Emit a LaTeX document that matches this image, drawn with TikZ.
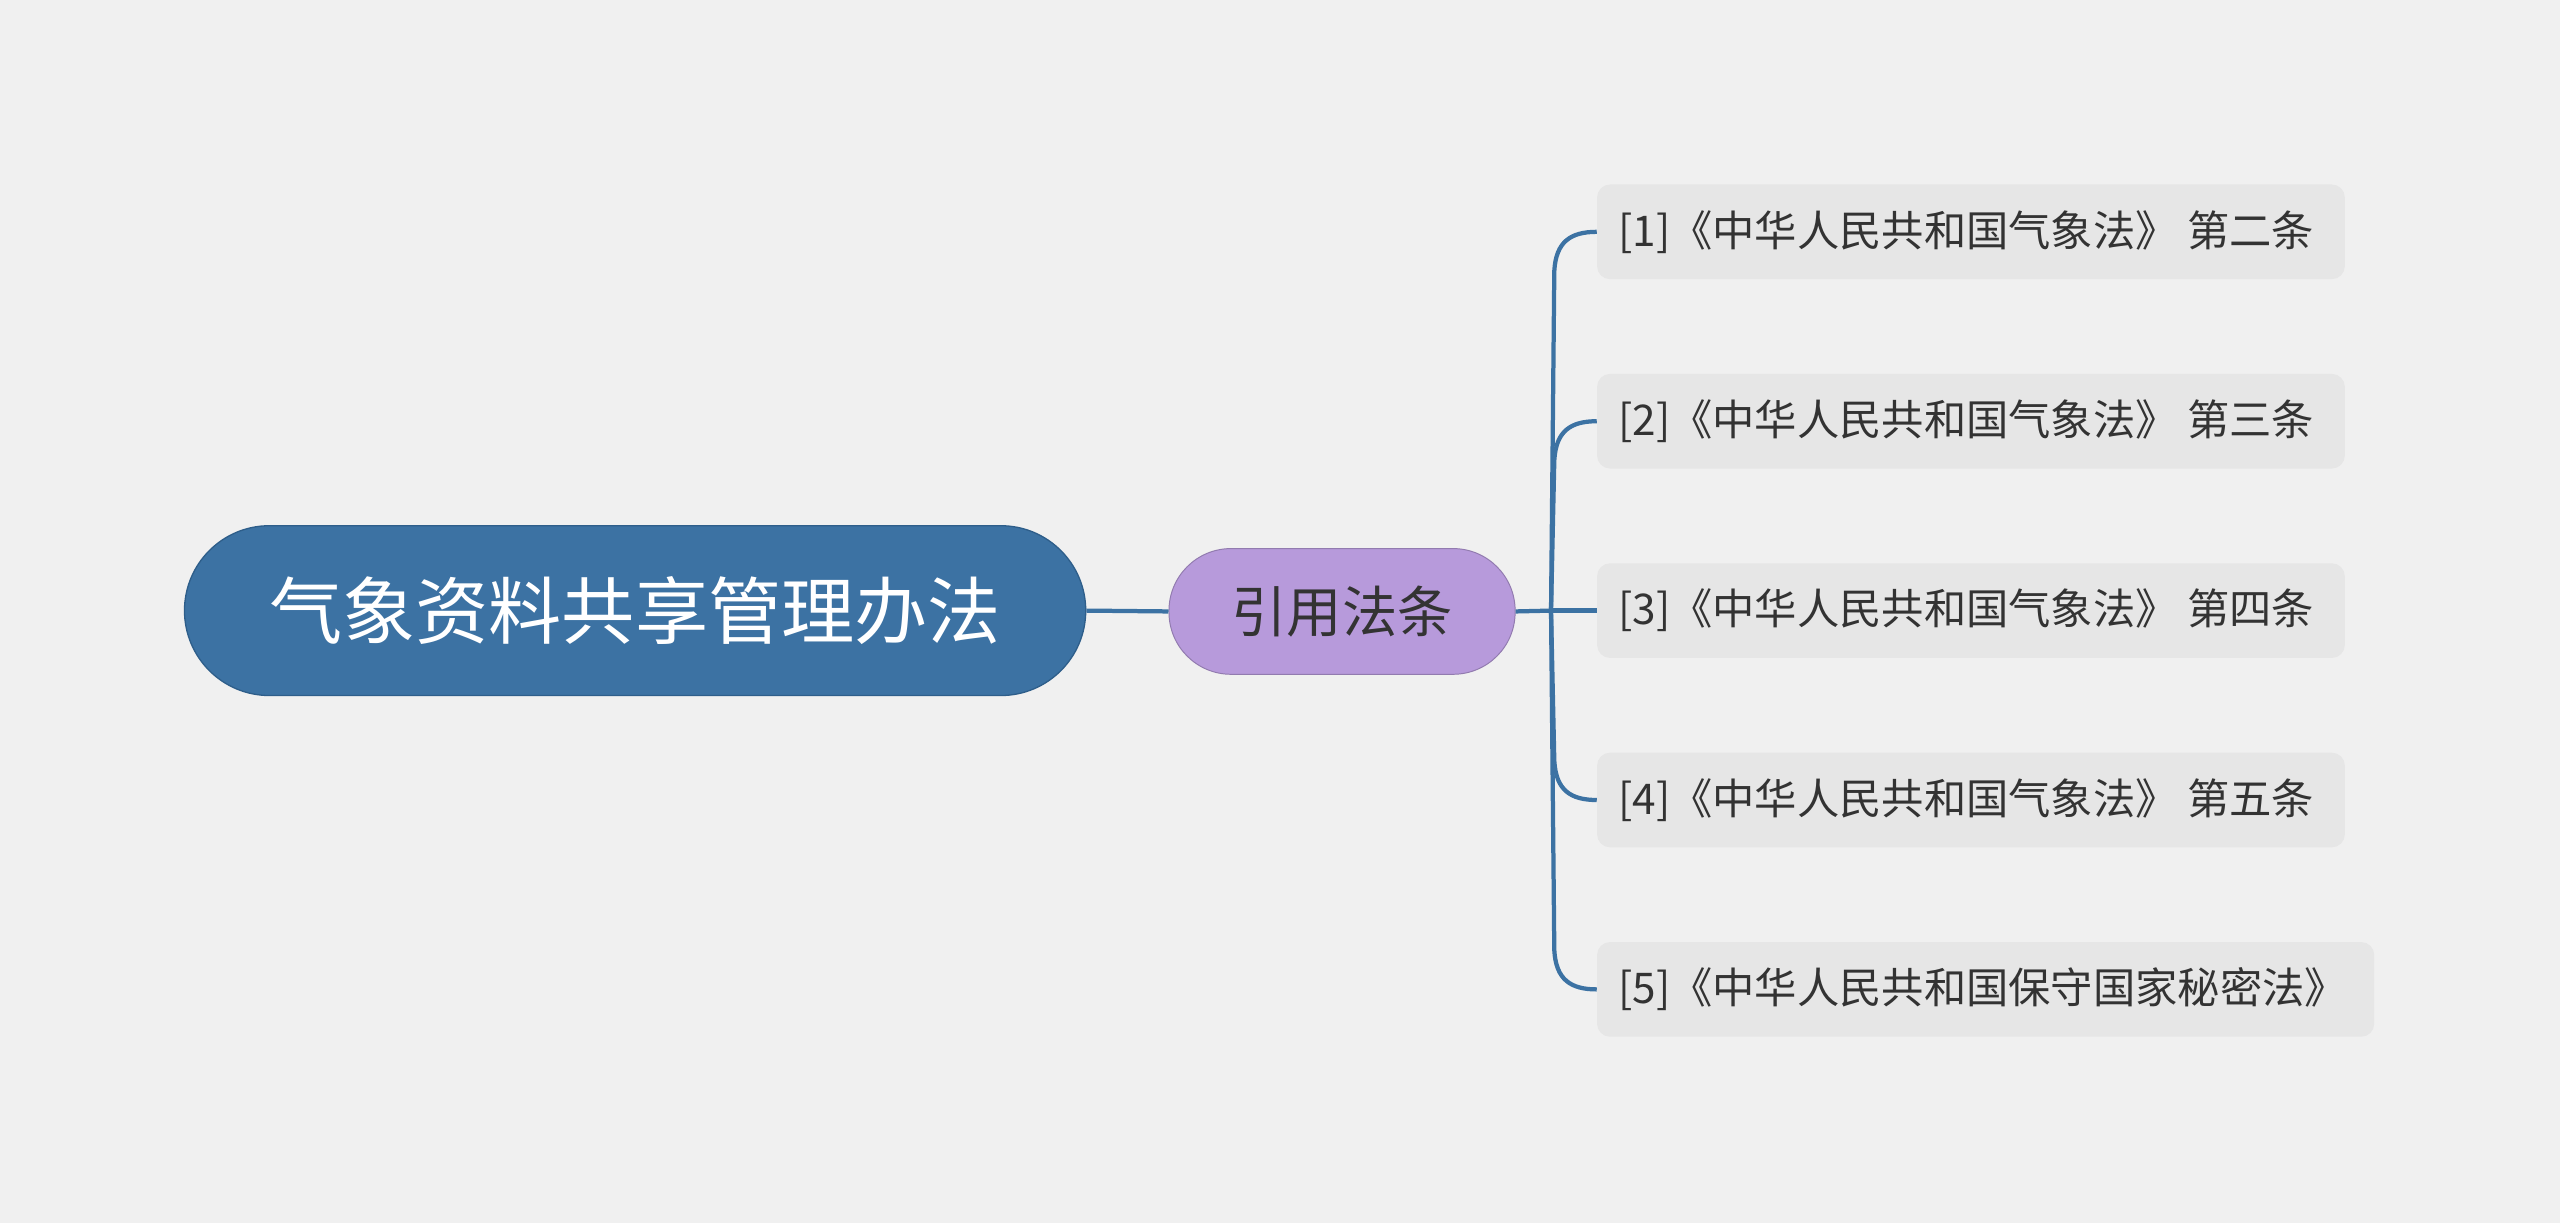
\documentclass[tikz,border=0pt]{standalone}
\usepackage{fontspec}
\setmainfont{Noto Sans CJK SC}
\definecolor{bg}{HTML}{F0F0F0}
\definecolor{rootc}{HTML}{3C72A3}
\definecolor{rootb}{HTML}{2E5E8A}
\definecolor{midc}{HTML}{B79ADB}
\definecolor{leafc}{HTML}{E6E6E6}
\definecolor{linec}{HTML}{3C72A3}
\newcommand{\lt}[2]{\makebox[#1][l]{#2}}
\begin{document}
\begin{tikzpicture}[x=1bp,y=-1bp,
  rootbox/.style={draw=rootb,line width=0.8bp,fill=rootc,rounded corners=52bp,minimum width=552bp,minimum height=104bp,text=white,font=\fontsize{45}{48}\selectfont,inner sep=0pt},
  midbox/.style={draw=midc!80!black,line width=0.6bp,fill=midc,rounded corners=38bp,minimum width=212bp,minimum height=77bp,text=black!80,font=\fontsize{34}{36}\selectfont,inner sep=0pt},
  leafbox/.style={fill=leafc,rounded corners=8bp,minimum height=58bp,anchor=west,text=black!80,font=\fontsize{26}{28}\selectfont,inner xsep=13bp,inner ysep=0pt},
  conn/.style={draw=linec,line width=2.6bp}]
\fill[bg] (0,0) rectangle (1568,749);
\useasboundingbox (0,0) rectangle (1568,749);
\node[rootbox] (root) at (389,374) {气象资料共享管理办法};
\node[midbox] (mid) at (822,374.5) {引用法条};
\node[leafbox] (l1) at (978,142) {\lt{432bp}{[1]《中华人民共和国气象法》 第二条}};
\node[leafbox] (l2) at (978,258) {\lt{432bp}{[2]《中华人民共和国气象法》 第三条}};
\node[leafbox] (l3) at (978,374) {\lt{432bp}{[3]《中华人民共和国气象法》 第四条}};
\node[leafbox] (l4) at (978,490) {\lt{432bp}{[4]《中华人民共和国气象法》 第五条}};
\node[leafbox] (l5) at (978,606) {\lt{450bp}{[5]《中华人民共和国保守国家秘密法》}};
\coordinate (hub) at (950,374);
\draw[conn] (root.east) -- (mid.west);
\draw[conn] (mid.east) -- (hub);
\draw[conn] (hub) -- (952,166) .. controls (953,148) and (962,142) .. (l1.west);
\draw[conn] (hub) -- (952,282) .. controls (953,264) and (962,258) .. (l2.west);
\draw[conn] (hub) -- (l3.west);
\draw[conn] (hub) -- (952,466) .. controls (953,484) and (962,490) .. (l4.west);
\draw[conn] (hub) -- (952,582) .. controls (953,600) and (962,606) .. (l5.west);
\end{tikzpicture}
\end{document}
